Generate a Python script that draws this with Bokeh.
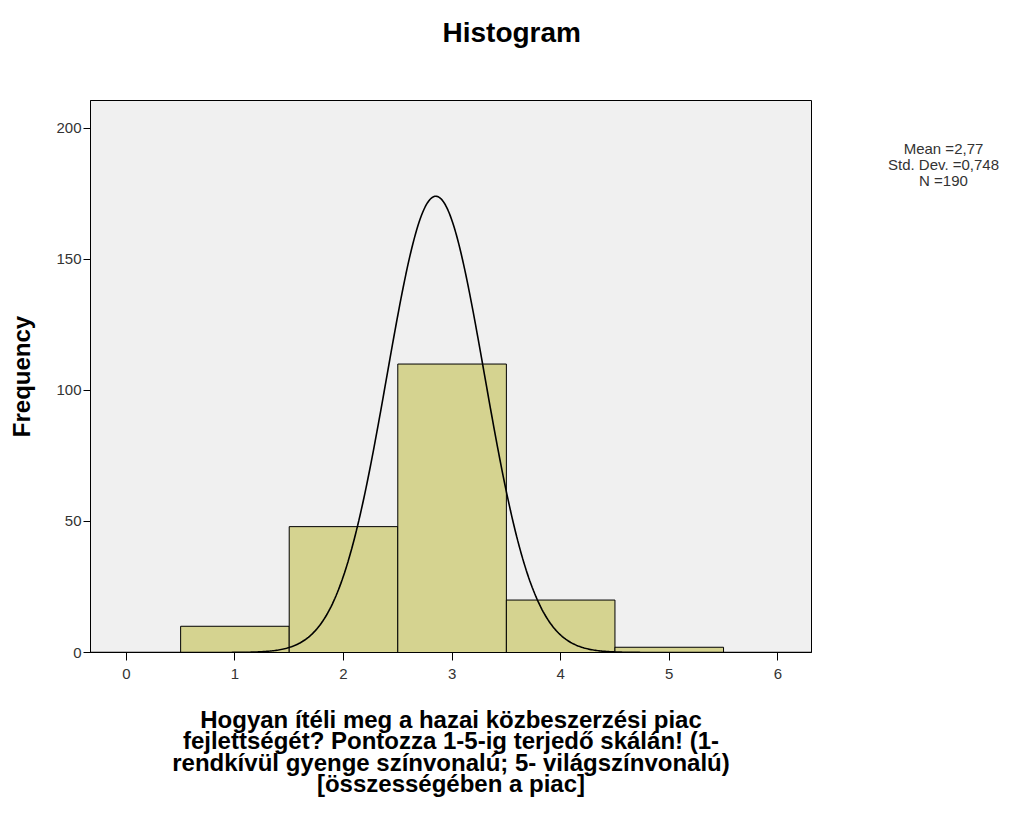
import numpy as np
from bokeh.plotting import figure
from bokeh.layouts import row
from bokeh.models import Label, Range1d, FixedTicker, Title
from bokeh.embed import file_html
from bokeh.resources import INLINE

# ---- data ----
bin_centers = [1, 2, 3, 4, 5]
frequencies = [10, 48, 110, 20, 2]
x_ticks = [0, 1, 2, 3, 4, 5, 6]
y_ticks = [0, 50, 100, 150, 200]
stats_lines = ["Mean =2,77", "Std. Dev. =0,748", "N =190"]
title_text = "Histogram"
x_label = ("Hogyan ítéli meg a hazai közbeszerzési piac\n"
           "fejlettségét? Pontozza 1-5-ig terjedő skálán! (1-\n"
           "rendkívül gyenge színvonalú; 5- világszínvonalú)\n"
           "[összességében a piac]")
y_label = "Frequency"
# normal curve as drawn in the picture (centre, spread, height)
curve_center = 2.85
curve_sd = 0.45
curve_peak = 174

FONT = "Liberation Sans"

p = figure(width=821, height=816, output_backend="svg", toolbar_location=None,
           x_range=Range1d(-0.33, 6.31), y_range=Range1d(0, 210.5),
           min_border_left=90, min_border_right=10, min_border_top=100,
           min_border_bottom=164)
p.background_fill_color = "#f0f0f0"
p.border_fill_color = "white"
p.outline_line_color = "black"
p.outline_line_width = 1
p.grid.visible = False

p.vbar(x=bin_centers, top=frequencies, width=1.0, bottom=0,
       fill_color="#d5d390", line_color="black", line_width=1)

xs = np.linspace(-0.33, 6.31, 600)
ys = curve_peak * np.exp(-((xs - curve_center) ** 2) / (2 * curve_sd ** 2))
p.line(xs, ys, line_color="black", line_width=1.6)

for ax in (p.xaxis[0], p.yaxis[0]):
    ax.axis_line_color = "black"
    ax.major_tick_line_color = "black"
    ax.major_tick_in = 0
    ax.minor_tick_line_color = None
    ax.major_label_text_font = FONT
    ax.major_label_text_font_size = "15px"
    ax.major_label_text_color = "#333333"
    ax.axis_label_text_font = FONT
    ax.axis_label_text_font_style = "bold"
    ax.axis_label_text_color = "black"

p.xaxis.ticker = FixedTicker(ticks=x_ticks)
p.yaxis.ticker = FixedTicker(ticks=y_ticks)
p.xaxis.major_tick_out = 8
p.yaxis.major_tick_out = 7
p.xaxis.major_label_standoff = 8
p.yaxis.major_label_standoff = 2
p.xaxis.axis_label = x_label
p.yaxis.axis_label = y_label
p.xaxis.axis_label_text_font_size = "24px"
p.yaxis.axis_label_text_font_size = "24px"
p.xaxis.axis_label_standoff = 24
p.yaxis.axis_label_standoff = 18
p.xaxis.axis_label_text_line_height = 0.8

# built-in title unused (kept minimal)
p.title.text = ""
p.title.standoff = 0
p.title.text_font_size = "1px"

# spacer next to the frame, then the real title above it
p.add_layout(Title(text=" ", standoff=35, text_font=FONT,
                   text_font_size="10px"), "above")
p.add_layout(Title(text=title_text, align="left", offset=352, standoff=10,
                   text_font=FONT, text_font_style="bold",
                   text_font_size="28px", text_color="black"), "above")

# side panel holding the summary statistics (frame aligned with main frame:
# 1 unit = 1 pixel, y measured up from the main frame's bottom edge)
s = figure(width=194, height=816, output_backend="svg", toolbar_location=None,
           x_range=Range1d(0, 194), y_range=Range1d(0, 552),
           min_border=0, min_border_left=0, min_border_right=0,
           min_border_top=100, min_border_bottom=164)
s.axis.visible = False
s.grid.visible = False
s.outline_line_color = None
s.background_fill_color = "white"
s.border_fill_color = "white"
for i, line in enumerate(stats_lines):
    s.add_layout(Label(x=122, y=504 - 16 * i, text=line, text_font=FONT,
                       text_font_size="15px", text_align="center",
                       text_baseline="middle", text_color="#333333"))

layout = row(p, s, spacing=0)
open("out.html", "w").write(file_html(layout, INLINE))
